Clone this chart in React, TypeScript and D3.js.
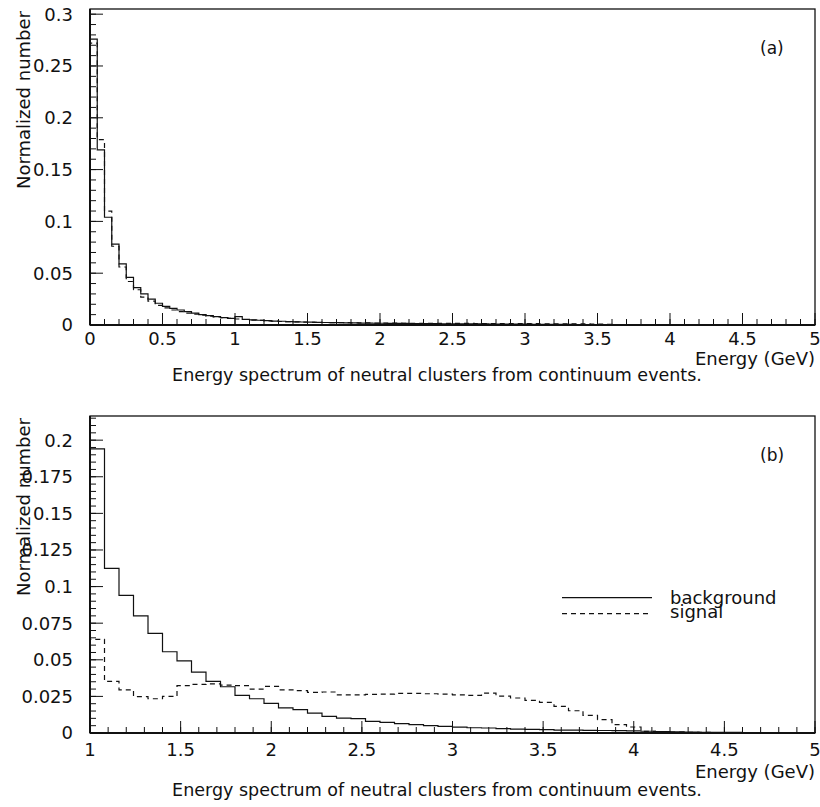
import React from "react";
import * as d3 from "d3";

// ---------- data ----------
// Panel (a): 100 bins of 0.05 GeV from 0 to 5 GeV
const binsA_start = 0;
const binsA_width = 0.05;
const backgroundA = [
  0.276, 0.169, 0.104, 0.078, 0.059, 0.046, 0.036, 0.030, 0.025, 0.021,
  0.018, 0.016, 0.0145, 0.013, 0.0115, 0.010, 0.009, 0.008, 0.0072, 0.0064,
  0.0080, 0.0055, 0.0050, 0.0046, 0.0042, 0.0038, 0.0036, 0.0033, 0.0031, 0.0029,
  0.0027, 0.0026, 0.0024, 0.0023, 0.0022, 0.0021, 0.0020, 0.0019, 0.0018, 0.0017,
  0.0017, 0.0016, 0.0015, 0.0015, 0.0014, 0.0014, 0.0013, 0.0013, 0.0012, 0.0012,
  0.0011, 0.0011, 0.0010, 0.0010, 0.0010, 0.0009, 0.0009, 0.0009, 0.0008, 0.0008,
  0.0008, 0.0007, 0.0007, 0.0007, 0.0006, 0.0006, 0.0006, 0.0005, 0.0005, 0.0005,
  0.0004, 0.0004, 0.0004, 0.0003, 0.0003, 0.0003, 0.0003, 0.0002, 0.0002, 0.0002,
  0.0002, 0.0002, 0.0001, 0.0001, 0.0001, 0.0001, 0.0001, 0.0001, 0.0001, 0.0001,
  0.0001, 0.0001, 0.0001, 0.0001, 0.0001, 0.0001, 0.0001, 0.0001, 0.0001, 0.0001,
];
const signalA = [
  0.272, 0.179, 0.110, 0.076, 0.056, 0.042, 0.034, 0.027, 0.023, 0.019,
  0.0165, 0.0145, 0.013, 0.0115, 0.0105, 0.0095, 0.0085, 0.0078, 0.0070, 0.0063,
  0.0058, 0.0053, 0.0048, 0.0044, 0.0040, 0.0037, 0.0034, 0.0032, 0.0030, 0.0028,
  0.0026, 0.0025, 0.0024, 0.0023, 0.0022, 0.0022, 0.0021, 0.0020, 0.0020, 0.0019,
  0.0019, 0.0018, 0.0018, 0.0017, 0.0017, 0.0017, 0.0016, 0.0016, 0.0016, 0.0015,
  0.0015, 0.0015, 0.0015, 0.0014, 0.0014, 0.0014, 0.0014, 0.0013, 0.0013, 0.0013,
  0.0013, 0.0013, 0.0012, 0.0012, 0.0012, 0.0012, 0.0011, 0.0011, 0.0010, 0.0009,
  0.0008, 0.0006, 0.0004, 0.0003, 0.0002, 0.0002, 0.0001, 0.0001, 0.0001, 0.0001,
  0.0001, 0.0001, 0.0001, 0.0001, 0.0001, 0.0001, 0.0001, 0.0001, 0.0001, 0.0001,
  0.0001, 0.0001, 0.0001, 0.0001, 0.0001, 0.0001, 0.0001, 0.0001, 0.0001, 0.0001,
];

// Panel (b): 50 bins of 0.08 GeV from 1 to 5 GeV
const binsB_start = 1;
const binsB_width = 0.08;
const backgroundB = [
  0.194, 0.1125, 0.094, 0.080, 0.068, 0.0555, 0.0493, 0.0416, 0.0352, 0.0316,
  0.0257, 0.0234, 0.0202, 0.0172, 0.0159, 0.0136, 0.0114, 0.0102, 0.0098, 0.0080,
  0.0073, 0.0064, 0.0057, 0.0050, 0.0045, 0.0040, 0.0036, 0.0034, 0.0030, 0.0027,
  0.0025, 0.0023, 0.0020, 0.0019, 0.0018, 0.0017, 0.0016, 0.0014, 0.0012, 0.0010,
  0.0008, 0.0006, 0.0005, 0.0004, 0.0004, 0.0003, 0.0003, 0.0002, 0.0002, 0.0001,
];
const signalB = [
  0.064, 0.0352, 0.0295, 0.0248, 0.0234, 0.0250, 0.0323, 0.0332, 0.0336, 0.0327,
  0.0323, 0.0300, 0.0318, 0.0295, 0.0289, 0.0277, 0.0280, 0.0261, 0.0260, 0.0264,
  0.0266, 0.0270, 0.0270, 0.0268, 0.0266, 0.0261, 0.0257, 0.0272, 0.0252, 0.0239,
  0.0223, 0.0209, 0.0182, 0.0152, 0.0120, 0.0091, 0.0057, 0.0041, 0.0011, 0.0008,
  0.0006, 0.0005, 0.0004, 0.0003, 0.0003, 0.0002, 0.0002, 0.0001, 0.0001, 0.0001,
];

const xTicksA = [0, 0.5, 1, 1.5, 2, 2.5, 3, 3.5, 4, 4.5, 5];
const yTicksA = [0, 0.05, 0.1, 0.15, 0.2, 0.25, 0.3];
const xTicksB = [1, 1.5, 2, 2.5, 3, 3.5, 4, 4.5, 5];
const yTicksB = [0, 0.025, 0.05, 0.075, 0.1, 0.125, 0.15, 0.175, 0.2];

const legendLabels = ["background", "signal"];
const xTitle = "Energy (GeV)";
const yTitle = "Normalized number";
const caption = "Energy spectrum of neutral clusters from continuum events.";

// ---------- drawing ----------
const FONT = "'DejaVu Sans', sans-serif";
const INK = "#111";

function stepPath(values: number[], start: number, width: number, xs: any, ys: any) {
  const pts: [number, number][] = [[start, 0]];
  values.forEach((v, i) => {
    pts.push([start + i * width, v]);
    pts.push([start + (i + 1) * width, v]);
  });
  pts.push([start + values.length * width, 0]);
  return d3.line<[number, number]>().x((d) => xs(d[0])).y((d) => ys(d[1]))(pts) || "";
}

function fmt(v: number) {
  return String(+v.toFixed(3));
}

type PanelProps = {
  xs: any;
  ys: any;
  xTicks: number[];
  yTicks: number[];
  xMinorStep: number;
  yMinorStep: number;
  bg: number[];
  sig: number[];
  start: number;
  width: number;
  tag: string;
  offs: [number, number, number];
  legend?: boolean;
};

function Panel(p: PanelProps) {
  const [x0, x1] = p.xs.range();
  const [yb, yt] = p.ys.range();
  const [dx0, dx1] = p.xs.domain();
  const [, dy1] = p.ys.domain();
  const xMinor = d3.range(dx0, dx1 + 1e-9, p.xMinorStep);
  const yMinor = d3.range(0, dy1 + 1e-9, p.yMinorStep);
  return (
    <g>
      {/* histograms */}
      <path d={stepPath(p.bg, p.start, p.width, p.xs, p.ys)} fill="none" stroke={INK} strokeWidth={1.2} />
      <path
        d={stepPath(p.sig, p.start, p.width, p.xs, p.ys)}
        fill="none"
        stroke={INK}
        strokeWidth={1.2}
        strokeDasharray="5,4"
      />
      {/* frame */}
      <rect x={x0} y={yt} width={x1 - x0} height={yb - yt} fill="none" stroke={INK} strokeWidth={1.3} />
      <line x1={x0} x2={x1} y1={yb} y2={yb} stroke={INK} strokeWidth={2} />
      <line x1={x0} x2={x0} y1={yt} y2={yb} stroke={INK} strokeWidth={2} />
      {/* x ticks */}
      {xMinor.map((v, i) => (
        <line key={"xm" + i} x1={p.xs(v)} x2={p.xs(v)} y1={yb} y2={yb - 6} stroke={INK} strokeWidth={1} />
      ))}
      {p.xTicks.map((v, i) => (
        <g key={"xt" + i}>
          <line x1={p.xs(v)} x2={p.xs(v)} y1={yb} y2={yb - 12} stroke={INK} strokeWidth={1} />
          <text x={p.xs(v)} y={yb + p.offs[0]} textAnchor="middle" fontFamily={FONT} fontSize={18} fill={INK}>
            {fmt(v)}
          </text>
        </g>
      ))}
      {/* y ticks */}
      {yMinor.map((v, i) => (
        <line key={"ym" + i} x1={x0} x2={x0 + 6} y1={p.ys(v)} y2={p.ys(v)} stroke={INK} strokeWidth={1} />
      ))}
      {p.yTicks.map((v, i) => (
        <g key={"yt" + i}>
          <line x1={x0} x2={x0 + 13} y1={p.ys(v)} y2={p.ys(v)} stroke={INK} strokeWidth={1} />
          <text
            x={x0 - 17}
            y={p.ys(v)}
            dy="0.36em"
            textAnchor="end"
            fontFamily={FONT}
            fontSize={18}
            fill={INK}
          >
            {fmt(v)}
          </text>
        </g>
      ))}
      {/* axis titles */}
      <text x={x1} y={yb + p.offs[1]} textAnchor="end" fontFamily={FONT} fontSize={18} fill={INK}>
        {xTitle}
      </text>
      <text x={437} y={yb + p.offs[2]} textAnchor="middle" fontFamily={FONT} fontSize={17.5} fill={INK}>
        {caption}
      </text>
      <text
        transform={`translate(30,${yt + 91}) rotate(-90)`}
        textAnchor="middle"
        fontFamily={FONT}
        fontSize={18}
        fill={INK}
      >
        {yTitle}
      </text>
      <text x={760} y={yt + 45} fontFamily={FONT} fontSize={17} fill={INK}>
        {p.tag}
      </text>
      {p.legend && (
        <g>
          <line x1={562} x2={652} y1={p.ys(0.1) + 11} y2={p.ys(0.1) + 11} stroke={INK} strokeWidth={1.2} />
          <line
            x1={562}
            x2={652}
            y1={p.ys(0.1) + 27}
            y2={p.ys(0.1) + 27}
            stroke={INK}
            strokeWidth={1.2}
            strokeDasharray="5,4"
          />
          <text x={670} y={p.ys(0.1) + 17} fontFamily={FONT} fontSize={18} fill={INK}>
            {legendLabels[0]}
          </text>
          <text x={670} y={p.ys(0.1) + 31} fontFamily={FONT} fontSize={18} fill={INK}>
            {legendLabels[1]}
          </text>
        </g>
      )}
    </g>
  );
}

export default function App() {
  const xA = d3.scaleLinear().domain([0, 5]).range([90, 815]);
  const yA = d3.scaleLinear().domain([0, 0.305]).range([325, 9]);
  const xB = d3.scaleLinear().domain([1, 5]).range([90, 815]);
  const yB = d3.scaleLinear().domain([0, 0.2165]).range([733, 416]);
  return (
    <svg
      width={820}
      height={807}
      style={{ position: "absolute", left: 0, top: 0, background: "#fff" }}
    >
      <rect width={820} height={807} fill="#fff" />
      <Panel
        xs={xA}
        ys={yA}
        xTicks={xTicksA}
        yTicks={yTicksA}
        xMinorStep={0.1}
        yMinorStep={0.01}
        bg={backgroundA}
        sig={signalA}
        start={binsA_start}
        width={binsA_width}
        tag="(a)"
        offs={[20, 40, 56]}
      />
      <Panel
        xs={xB}
        ys={yB}
        xTicks={xTicksB}
        yTicks={yTicksB}
        xMinorStep={0.1}
        yMinorStep={0.005}
        bg={backgroundB}
        sig={signalB}
        start={binsB_start}
        width={binsB_width}
        tag="(b)"
        offs={[23, 45, 63]}
        legend
      />
    </svg>
  );
}
